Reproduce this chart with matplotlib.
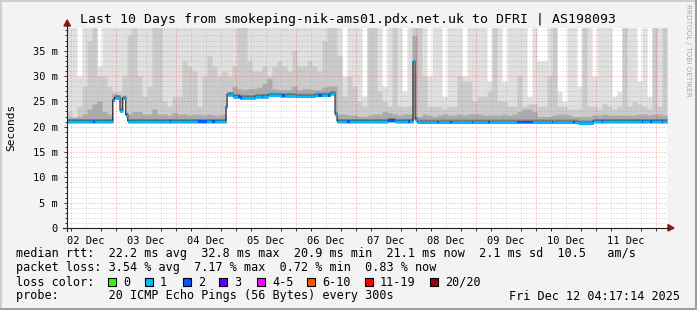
import numpy as np
import matplotlib
matplotlib.use("Agg")
import matplotlib.pyplot as plt
from matplotlib.lines import Line2D
from matplotlib.patches import Rectangle, Polygon

W, H, DPI = 697, 310, 100

# ---------------- data (hours since start, values in ms) ----------------
bin_hours = 2.0
smoke_max = [40, 40, 30, 40, 40, 40, 32, 40, 40, 40,
             40, 40, 40, 40, 40, 40, 40, 40, 40, 40, 40, 40,
             40, 40, 40, 40, 40, 40, 40, 40, 40, 40, 40, 40,
             40, 40, 40, 40, 40, 40, 40, 40, 40, 40, 40, 40,
             40, 40, 40, 40, 40, 40, 40, 40, 40, 30, 40, 40,
             40, 26, 40, 40, 40, 28, 40, 40, 40, 27, 40, 40,
             40, 40, 30, 40, 40, 26, 40, 40, 40, 30, 40, 40,
             40, 40, 29, 40, 40, 29, 40, 40, 40, 40, 26, 40,
             33, 33, 40, 40, 27, 25, 40, 40, 28, 40, 40, 30,
             40, 40, 40, 26, 27, 40, 40, 40, 29, 40, 26, 40, 40, 40]
smoke_mid = [23, 22, 24, 28, 37, 40, 30, 30, 28, 27,
             27, 30, 38, 40, 30, 26, 28, 40, 40, 25, 24, 26,
             26, 33, 32, 31, 24, 30, 34, 32, 30, 31, 30, 32,
             40, 40, 33, 31, 31, 32, 30, 32, 33, 32, 31, 35,
             32, 32, 33, 32, 31, 37, 40, 40, 34, 26, 30, 28,
             25, 24, 40, 40, 27, 25, 24, 40, 24, 24, 24, 40,
             40, 30, 24, 24, 24, 23.5, 24, 24, 30, 29, 29, 25,
             26, 26, 27, 40, 25, 25, 24, 24, 30, 24, 24.5, 24.5,
             24, 24, 30, 40, 24, 24, 23.5, 23.5, 23.5, 40, 24, 24,
             23.5, 24.5, 24, 23.5, 24, 40, 24, 25, 24.5, 24, 23.5, 40, 24, 40]
smoke_low = [21.8, 21.8, 22, 22.5, 23.5, 24.5, 25, 23, 22.5, 26.5,
             26, 23, 22.5, 23, 23, 22.5, 22.5, 23.5, 22.5, 22.5, 22.3, 22.8,
             22.5, 22.5, 22.3, 22.5, 22.5, 22.3, 22.5, 22.3, 22.3, 22.5, 22.5, 28,
             27.5, 27.3, 27.5, 27.5, 27.8, 28.5, 29.5, 27.5, 27.3, 27.3, 27.3, 28,
             27.3, 27.5, 27.5, 27.3, 27.3, 27.8, 28, 28, 22.5, 22.5, 22.3, 22.3,
             22, 22, 22.3, 22.5, 22.5, 23, 22.8, 22.5, 22.3, 22.5, 22.5, 38,
             22, 22.5, 22.3, 22, 22.3, 22.5, 22.3, 22.3, 22.5, 22.3, 22.5, 22.5,
             22.5, 22.3, 22.3, 22.3, 22.3, 22.5, 22.3, 22.5, 23, 23.5, 23.5, 23,
             22, 22, 22, 22.3, 22.5, 22.5, 22.3, 22, 22, 22, 22, 22.3,
             22.3, 22.5, 22.3, 22.3, 22.3, 22.3, 22.3, 22.3, 22.5, 22.5, 22.3, 22.5, 22.5, 22.3]

median_t = [0, 18.3, 19.0, 21.2, 22.3, 23.5, 24.3, 63.6, 64.0, 66.4, 69.2, 75.2, 80.4,
            85.2, 91.2, 99.2, 105.2, 107.2, 108.0, 128.4, 131.2, 138.4, 139.2, 140.0,
            204.4, 210.4, 240.0]
median_v = [21.1, 25.3, 25.8, 23.2, 25.7, 22.3, 21.1, 24.0, 26.4, 26.0, 25.8, 26.0, 26.3,
            26.2, 26.1, 26.3, 26.6, 22.5, 21.1, 21.3, 21.1, 32.8, 21.5, 21.0,
            20.8, 21.1, 21.1]

# periods with 2/20 loss (otherwise 1/20)
loss2_start = [10.4, 41.2, 52.4, 58.0, 68.4, 78.0, 86.0, 100.4, 104.4, 112.0, 128.4,
               136.4, 148.0, 153.2, 162.0, 168.4, 180.0, 194.0, 202.4, 214.0, 230.0,
               233.2, 238.0]
loss2_end = [11.0, 41.8, 56.0, 59.2, 70.0, 78.6, 87.2, 102.0, 105.0, 113.2, 131.2,
             137.2, 148.6, 153.8, 162.6, 169.0, 186.4, 194.6, 203.0, 214.6, 230.6,
             233.8, 238.6]

day_labels = ["02 Dec", "03 Dec", "04 Dec", "05 Dec", "06 Dec",
              "07 Dec", "08 Dec", "09 Dec", "10 Dec", "11 Dec"]
first_midnight_h = 19.6

loss_labels = ["0", "1", "2", "3", "4-5", "6-10", "11-19", "20/20"]
loss_colors = ["#26ff00", "#00b8ff", "#0059ff", "#5e00ff", "#ff00ff", "#ff5500", "#ff0000", "#a00000"]

title = "Last 10 Days from smokeping-nik-ams01.pdx.net.uk to DFRI | AS198093"
line_rtt = "median rtt:  22.2 ms avg  32.8 ms max  20.9 ms min  21.1 ms now  2.1 ms sd  10.5   am/s"
line_loss = "packet loss: 3.54 % avg  7.17 % max  0.72 % min  0.83 % now"
line_probe = "probe:       20 ICMP Echo Pings (56 Bytes) every 300s"
stamp = "Fri Dec 12 04:17:14 2025"

# ---------------- figure ----------------
MONO = "DejaVu Sans Mono"
plt.rcParams['font.family'] = [MONO]
fig = plt.figure(figsize=(W / DPI, H / DPI), dpi=DPI, facecolor="#f3f3f3")

def fx(px):
    return px / W

def fy(py):
    return 1 - py / H

PX_L, PX_R, PX_T, PX_B = 67, 667, 28, 228
YMAX = (PX_B - PX_T) / 5.066
XMAX = 240.0
ax = fig.add_axes([fx(PX_L), fy(PX_B), (PX_R - PX_L) / W, (PX_B - PX_T) / H])
ax.set_facecolor("white")
ax.set_xlim(0, XMAX)
ax.set_ylim(0, YMAX)
for s in ax.spines.values():
    s.set_visible(False)

# fine time grid
t = np.arange(0, XMAX + 0.001, 0.1)
mt = np.array(median_t)
mv = np.array(median_v)
med = mv[np.clip(np.searchsorted(mt, t, side="right") - 1, 0, len(mv) - 1)]
bidx = np.clip((t // bin_hours).astype(int), 0, len(smoke_max) - 1)
smax = np.array(smoke_max, float)[bidx]
smid = np.array(smoke_mid, float)[bidx]
slow = np.array(smoke_low, float)[bidx]

base = med - 0.3
ax.fill_between(t, base, np.maximum(smax, med), step="post", color="#e0e0e0", lw=0, zorder=1)
ax.fill_between(t, base, np.maximum(smid, med), step="post", color="#cbcbcb", lw=0, zorder=1.1)
ax.fill_between(t, base, np.maximum(slow, med), step="post", color="#ababab", lw=0, zorder=1.2)
ax.fill_between(t, base, med + 0.5, step="post", color="#7a7a7a", lw=0, zorder=1.3)

# grid
gdash = (0, (1, 2))
for v in range(1, 40):
    if v % 5 == 0:
        ax.axhline(v, color=(1, 0, 0, 0.4), lw=0.72, ls=gdash, zorder=2)
    else:
        ax.axhline(v, color=(0.6, 0.6, 0.6, 0.45), lw=0.72, ls=gdash, zorder=2)
hh = first_midnight_h - 18
while hh < XMAX:
    if hh > 0:
        major = abs(((hh - first_midnight_h) / 24) - round((hh - first_midnight_h) / 24)) < 1e-6
        if major:
            ax.axvline(hh, color=(1, 0, 0, 0.4), lw=0.72, ls=gdash, zorder=2)
        else:
            ax.axvline(hh, color=(0.6, 0.6, 0.6, 0.45), lw=0.72, ls=gdash, zorder=2)
    hh += 6

# median line and loss-coloured band
ax.step(t, med, where="post", color="#202020", lw=0.8, zorder=3)
ax.fill_between(t, med - 0.35, med + 0.2, step="post", color=loss_colors[1], lw=0, zorder=4)
for a, b in zip(loss2_start, loss2_end):
    m = (t >= a) & (t <= b)
    ax.fill_between(t[m], med[m] - 0.35, med[m] + 0.2, step="post", color=loss_colors[2], lw=0, zorder=4.1)

# ticks
ax.set_yticks([0, 5, 10, 15, 20, 25, 30, 35])
ax.set_yticklabels(["0", "5 m", "10 m", "15 m", "20 m", "25 m", "30 m", "35 m"])
ax.set_yticks(np.arange(1, 40, 1), minor=True)
noon = [first_midnight_h - 12 + 24 * i for i in range(len(day_labels))]
ax.set_xticks(noon)
ax.set_xticklabels(day_labels)
ax.set_xticks([h for h in np.arange(first_midnight_h - 18, XMAX, 6) if h > 0], minor=True)
ax.tick_params(axis="y", which="major", length=2.5, width=0.7, pad=4, labelsize=7.5, color="#333333")
ax.tick_params(axis="y", which="minor", length=1.5, width=0.7, color="#333333")
ax.tick_params(axis="x", which="major", length=0, pad=6, labelsize=7.5)
ax.tick_params(axis="x", which="minor", length=2, width=0.7, color="#333333")

# axes with arrows
axis_c = "#202020"
arrow_c = "#8c1a1a"
fig.add_artist(Line2D([fx(PX_L), fx(PX_L)], [fy(PX_B + 3), fy(PX_T - 4)], color=axis_c, lw=0.8))
fig.add_artist(Line2D([fx(PX_L - 4), fx(PX_R + 2)], [fy(PX_B), fy(PX_B)], color=axis_c, lw=0.8))
fig.add_artist(Polygon([[fx(PX_L - 3), fy(PX_T - 2)], [fx(PX_L + 3.5), fy(PX_T - 2)], [fx(PX_L + 0.2), fy(PX_T - 8)]],
                       closed=True, color=arrow_c, transform=fig.transFigure))
fig.add_artist(Polygon([[fx(PX_R + 1), fy(PX_B - 3.5)], [fx(PX_R + 1), fy(PX_B + 3)], [fx(PX_R + 7), fy(PX_B)]],
                       closed=True, color=arrow_c, transform=fig.transFigure))

# texts
fig.text(fx(348), fy(19), title, ha="center", va="center", fontsize=9.5, color="black")
fig.text(fx(11), fy(127), "Seconds", ha="center", va="center", rotation=90, fontsize=8, color="black")
fig.text(fx(688), fy(4), "RRDTOOL / TOBI OETIKER", ha="center", va="top", rotation=270,
         fontsize=5.2, color="#a8a8a8", family="DejaVu Sans")

TX = 15.5
fs = 8.5
fig.text(fx(TX), fy(254), line_rtt, ha="left", va="center", fontsize=fs)
fig.text(fx(TX), fy(268), line_loss, ha="left", va="center", fontsize=fs)
fig.text(fx(TX), fy(282), "loss color:", ha="left", va="center", fontsize=fs)
fig.text(fx(TX), fy(296), line_probe, ha="left", va="center", fontsize=fs)
fig.text(fx(680), fy(296), stamp, ha="right", va="center", fontsize=fs)

box_x = [108, 145, 183, 219, 257, 307, 365, 430]
for bx, lab, col in zip(box_x, loss_labels, loss_colors):
    fig.add_artist(Rectangle((fx(bx), fy(286)), 8 / W, 8 / H, facecolor=col, edgecolor="black",
                             lw=0.8, transform=fig.transFigure))
    fig.text(fx(bx + 15), fy(282), lab, ha="left", va="center", fontsize=fs)

# frame
fig.add_artist(Line2D([0, 1], [fy(0.7), fy(0.7)], color="#cfcfcf", lw=1.5))
fig.add_artist(Line2D([fx(0.7), fx(0.7)], [0, 1], color="#cfcfcf", lw=1.5))
fig.add_artist(Line2D([0, 1], [fy(H - 1), fy(H - 1)], color="#9e9e9e", lw=1.5))
fig.add_artist(Line2D([fx(W - 1), fx(W - 1)], [0, 1], color="#9e9e9e", lw=1.5))

fig.savefig("out.png", dpi=DPI, facecolor=fig.get_facecolor())
